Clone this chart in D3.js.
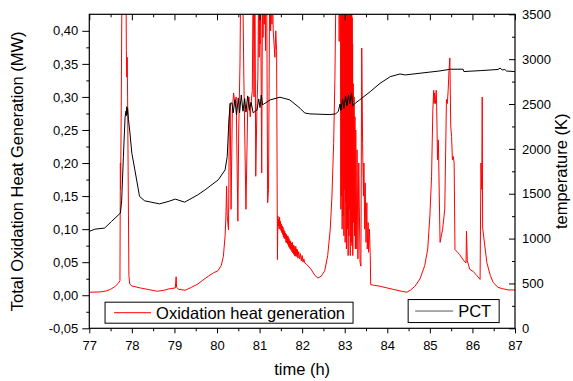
<!DOCTYPE html>
<html>
<head>
<meta charset="utf-8">
<script src="https://cdn.jsdelivr.net/npm/d3@7"></script>
<style>
  body { margin: 0; background: #fff; }
  svg { display: block; font-family: "Liberation Sans", Arial, sans-serif; }
  .tick text { font-size: 13px; fill: #000; }
  .axis-title { font-size: 16.5px; fill: #000; }
  .legend-text { font-size: 16.5px; fill: #000; }
</style>
</head>
<body>
<div id="wrapper"></div>
<script>
// oxidation heat generation (MW)
const redTime = [
  77.00, 77.25, 77.40, 77.50, 77.60, 77.68, 77.72, 77.73, 77.735, 77.75,
  77.77, 77.80, 77.84, 77.86, 77.87, 77.88, 77.89, 77.90, 77.92, 77.93,
  77.95, 78.00, 78.20, 78.40, 78.60, 78.75, 78.90, 79.02, 79.04, 79.05,
  79.10, 79.25, 79.40, 79.55, 79.65, 79.80, 79.92, 80.02, 80.10, 80.15,
  80.19, 80.21, 80.225, 80.24, 80.27, 80.29, 80.31, 80.33, 80.36, 80.39,
  80.42, 80.45, 80.49, 80.51, 80.54, 80.56, 80.60, 80.63, 80.68, 80.72,
  80.75, 80.78, 80.80, 80.83, 80.85, 80.87, 80.89, 80.91, 80.94, 80.96, 80.98,
  80.99, 81.00, 81.01, 81.02, 81.03, 81.05, 81.07, 81.08, 81.10, 81.11, 81.12, 81.14, 81.15, 81.17, 81.19,
  81.21, 81.24, 81.26, 81.27, 81.29, 81.30, 81.32, 81.34, 81.36, 81.38, 81.40, 81.42,
  81.43, 81.44, 81.45, 81.46, 81.47, 81.48, 81.49, 81.50, 81.51, 81.52,
  81.53, 81.54, 81.55, 81.56, 81.57, 81.58, 81.59, 81.60, 81.61, 81.62,
  81.63, 81.64, 81.65, 81.66, 81.67, 81.68, 81.69, 81.70, 81.71, 81.72,
  81.73, 81.74, 81.75, 81.76, 81.77, 81.78, 81.79, 81.80, 81.81, 81.82,
  81.83, 81.84, 81.85, 81.86, 81.87, 81.88, 81.89, 81.90, 81.92, 81.94,
  81.96, 81.98, 82.00, 82.02, 82.04, 82.06, 82.10, 82.20, 82.30, 82.37,
  82.45, 82.53, 82.60, 82.66, 82.70, 82.74, 82.77, 82.80, 82.86, 82.87,
  82.88, 82.90, 82.91, 82.915, 82.92, 82.925, 82.93, 82.935, 82.94, 82.945,
  82.95, 82.955, 82.96, 82.965, 82.97, 82.975, 82.98, 82.985, 82.99, 82.995,
  83.00, 83.005, 83.01, 83.015, 83.02, 83.025, 83.03, 83.035, 83.04, 83.045,
  83.05, 83.055, 83.06, 83.065, 83.07, 83.075, 83.08, 83.085, 83.09, 83.095,
  83.10, 83.105, 83.11, 83.115, 83.12, 83.125, 83.13, 83.135, 83.14, 83.145,
  83.15, 83.155, 83.16, 83.165, 83.17, 83.175, 83.18, 83.185, 83.19,
  83.20, 83.21, 83.22, 83.23, 83.24, 83.25, 83.26, 83.27, 83.29, 83.31, 83.33, 83.36, 83.38,
  83.40, 83.42, 83.44, 83.45, 83.47, 83.48, 83.50, 83.52, 83.53, 83.55,
  83.56, 83.58, 83.60, 83.61, 83.70, 83.83, 84.00, 84.30, 84.46, 84.55,
  84.65, 84.77, 84.88, 84.95, 85.00, 85.04, 85.07, 85.09, 85.10, 85.11,
  85.13, 85.15, 85.16, 85.18, 85.20, 85.24, 85.30, 85.35, 85.39, 85.41,
  85.43, 85.45, 85.47, 85.49, 85.51, 85.53, 85.55, 85.57, 85.59, 85.65,
  85.70, 85.80, 85.85, 85.86, 85.88, 85.94, 86.02, 86.10, 86.18, 86.20,
  86.22, 86.23, 86.24, 86.30, 86.34, 86.42, 86.49, 86.60, 86.70, 86.85,
  87.00
]
const redHeat = [
  0.0045, 0.005, 0.0065, 0.009, 0.013, 0.018, 0.022, 0.20, 0.16, 0.28,
  0.50, 0.50, 0.50, 0.50, 0.37, 0.33, 0.36, 0.30, 0.12, 0.03,
  0.017, 0.014, 0.011, 0.0085, 0.006, 0.0075, 0.010, 0.011, 0.028, 0.012,
  0.009, 0.0075, 0.012, 0.017, 0.022, 0.029, 0.034, 0.037, 0.045, 0.059,
  0.09, 0.12, 0.165, 0.12, 0.099, 0.265, 0.29, 0.13, 0.28, 0.306,
  0.29, 0.30, 0.112, 0.25, 0.35, 0.50, 0.50, 0.33, 0.13, 0.28,
  0.30, 0.27, 0.29, 0.31, 0.50, 0.30, 0.50, 0.18, 0.29, 0.33, 0.50,
  0.36, 0.50, 0.38, 0.50, 0.40, 0.185, 0.50, 0.39, 0.50, 0.41, 0.50, 0.37, 0.50, 0.42, 0.14,
  0.16, 0.50, 0.40, 0.50, 0.41, 0.50, 0.40, 0.38, 0.36, 0.40, 0.37, 0.054,
  0.12, 0.105, 0.115, 0.10, 0.118, 0.102, 0.112, 0.098, 0.108, 0.095,
  0.105, 0.092, 0.103, 0.088, 0.099, 0.086, 0.097, 0.085, 0.094, 0.080,
  0.092, 0.079, 0.090, 0.077, 0.089, 0.074, 0.086, 0.072, 0.083, 0.070,
  0.082, 0.068, 0.079, 0.066, 0.080, 0.064, 0.076, 0.062, 0.075, 0.060,
  0.072, 0.059, 0.074, 0.060, 0.070, 0.058, 0.069, 0.056, 0.066, 0.055,
  0.063, 0.052, 0.060, 0.050, 0.055, 0.049, 0.047, 0.040, 0.030, 0.026,
  0.029, 0.037, 0.06, 0.10, 0.15, 0.23, 0.33, 0.50, 0.50, 0.384,
  0.50, 0.50, 0.13, 0.50, 0.15, 0.50, 0.22, 0.50, 0.10, 0.50,
  0.18, 0.50, 0.12, 0.50, 0.25, 0.50, 0.09, 0.50, 0.16, 0.50,
  0.20, 0.50, 0.08, 0.50, 0.14, 0.50, 0.19, 0.50, 0.07, 0.50,
  0.12, 0.50, 0.21, 0.50, 0.10, 0.50, 0.06, 0.50, 0.17, 0.50,
  0.09, 0.50, 0.13, 0.50, 0.23, 0.50, 0.06, 0.50, 0.11, 0.45,
  0.08, 0.50, 0.15, 0.50, 0.075, 0.42, 0.10, 0.38, 0.06,
  0.32, 0.11, 0.30, 0.09, 0.27, 0.07, 0.25, 0.07, 0.22, 0.055, 0.20, 0.05, 0.044,
  0.374, 0.23, 0.15, 0.20, 0.10, 0.17, 0.08, 0.14, 0.07, 0.11,
  0.065, 0.10, 0.06, 0.016, 0.015, 0.0136, 0.011, 0.0065, 0.0045, 0.008,
  0.0136, 0.025, 0.045, 0.07, 0.12, 0.18, 0.28, 0.31, 0.29, 0.306,
  0.29, 0.31, 0.286, 0.205, 0.235, 0.08, 0.10, 0.13, 0.296, 0.29,
  0.31, 0.34, 0.359, 0.256, 0.24, 0.205, 0.21, 0.20, 0.069, 0.065,
  0.0615, 0.052, 0.049, 0.097, 0.052, 0.039, 0.036, 0.030, 0.024, 0.20,
  0.16, 0.30, 0.102, 0.07, 0.049, 0.03, 0.019, 0.012, 0.010, 0.008,
  0.008
]

// peak cladding temperature (K)
const pctTime = [
  77.00, 77.13, 77.36, 77.52, 77.73, 77.76, 77.80, 77.84, 77.86, 77.87,
  77.88, 77.89, 77.90, 77.92, 77.95, 78.00, 78.07, 78.18, 78.30, 78.65,
  78.85, 79.02, 79.24, 79.55, 79.72, 80.03, 80.19, 80.24, 80.28, 80.31,
  80.35, 80.38, 80.42, 80.46, 80.50, 80.53, 80.57, 80.61, 80.65, 80.68,
  80.72, 80.76, 80.80, 80.85, 80.90, 80.94, 80.98, 81.01, 81.04, 81.07,
  81.10, 81.25, 81.48, 81.71, 81.95, 82.06, 82.18, 82.65, 82.79, 82.85,
  82.89, 82.91, 82.95, 82.98, 83.02, 83.05, 83.09, 83.12, 83.16, 83.19,
  83.25, 83.35, 83.60, 83.83, 84.07, 84.30, 84.42, 85.24, 85.48, 85.78,
  85.80, 86.18, 86.60, 86.65, 86.70, 86.76, 86.80, 87.00
]
const pctTemp = [
  1080, 1105, 1117, 1190, 1284, 1420, 1900, 2350, 2420, 2370,
  2470, 2390, 2450, 2330, 2200, 1950, 1766, 1470, 1421, 1387,
  1413, 1440, 1406, 1488, 1543, 1655, 1766, 1914, 2323, 2509,
  2512, 2401, 2546, 2379, 2568, 2401, 2601, 2420, 2560, 2410,
  2590, 2430, 2520, 2401, 2420, 2434, 2557, 2460, 2600, 2490,
  2500, 2546, 2576, 2546, 2453, 2400, 2390, 2382, 2390, 2420,
  2500, 2430, 2560, 2450, 2590, 2480, 2600, 2500, 2620, 2480,
  2510, 2546, 2638, 2731, 2805, 2835, 2824, 2869, 2888, 2888,
  2862, 2872, 2885, 2900, 2880, 2885, 2868, 2861
]

const xTicks = [77, 78, 79, 80, 81, 82, 83, 84, 85, 86, 87]
const leftTicks = [-0.05, 0, 0.05, 0.10, 0.15, 0.20, 0.25, 0.30, 0.35, 0.40]
const rightTicks = [0, 500, 1000, 1500, 2000, 2500, 3000, 3500]

function drawChart() {
  const dimensions = {
    width: 573,
    height: 381,
    margin: { top: 14.3, right: 58, bottom: 52.7, left: 89.3 }
  }
  dimensions.boundedWidth = dimensions.width - dimensions.margin.left - dimensions.margin.right
  dimensions.boundedHeight = dimensions.height - dimensions.margin.top - dimensions.margin.bottom

  const wrapper = d3.select("#wrapper")
    .append("svg")
      .attr("width", dimensions.width)
      .attr("height", dimensions.height)

  const bounds = wrapper.append("g")
    .attr("transform", `translate(${dimensions.margin.left},${dimensions.margin.top})`)

  const xScale = d3.scaleLinear()
    .domain([77, 87])
    .range([0, dimensions.boundedWidth])

  const yScale = d3.scaleLinear()
    .domain([-0.05, 0.425])
    .range([dimensions.boundedHeight, 0])

  const tScale = d3.scaleLinear()
    .domain([0, 3500])
    .range([dimensions.boundedHeight, 0])

  const commaFormat = d => d.toFixed(2).replace(".", ",")
  const minorX = xTicks.slice(1).map(d => d - 0.5)
  const minorLeft = leftTicks.map(d => d + 0.025)
  const minorRight = rightTicks.slice(1).map(d => d - 250)

  // curves
  bounds.append("clipPath")
    .attr("id", "plot-clip")
    .append("rect")
      .attr("width", dimensions.boundedWidth)
      .attr("height", dimensions.boundedHeight)

  const heatData = redTime.map((t, i) => [t, redHeat[i]])
  const pctData = pctTime.map((t, i) => [t, pctTemp[i]])

  const heatLine = d3.line()
    .x(d => xScale(d[0]))
    .y(d => yScale(d[1]))

  const pctLine = d3.line()
    .x(d => xScale(d[0]))
    .y(d => tScale(d[1]))

  const curves = bounds.append("g")
    .attr("clip-path", "url(#plot-clip)")

  curves.append("path")
    .attr("d", heatLine(heatData))
    .attr("fill", "none")
    .attr("stroke", "#ff0000")
    .attr("stroke-width", 1)
    .attr("stroke-linejoin", "round")

  curves.append("path")
    .attr("d", pctLine(pctData))
    .attr("fill", "none")
    .attr("stroke", "#000")
    .attr("stroke-width", 1)
    .attr("stroke-linejoin", "round")

  // axes
  const styleAxis = g => {
    g.select(".domain").remove()
    g.selectAll(".tick line").attr("stroke", "#000")
  }

  bounds.append("g")
    .attr("transform", `translate(0,${dimensions.boundedHeight})`)
    .call(d3.axisBottom(xScale).tickValues(xTicks).tickSize(5).tickPadding(7).tickFormat(d3.format("d")))
    .call(styleAxis)
  bounds.append("g")
    .attr("transform", `translate(0,${dimensions.boundedHeight})`)
    .call(d3.axisBottom(xScale).tickValues(minorX).tickSize(3).tickFormat(""))
    .call(styleAxis)

  bounds.append("g")
    .call(d3.axisBottom(xScale).tickValues(xTicks).tickSize(6).tickFormat(""))
    .call(styleAxis)
  bounds.append("g")
    .call(d3.axisBottom(xScale).tickValues(minorX).tickSize(3).tickFormat(""))
    .call(styleAxis)

  bounds.append("g")
    .call(d3.axisLeft(yScale).tickValues(leftTicks).tickSize(7).tickPadding(4).tickFormat(commaFormat))
    .call(styleAxis)
  bounds.append("g")
    .call(d3.axisLeft(yScale).tickValues(minorLeft.filter(d => d < 0.42)).tickSize(3).tickFormat(""))
    .call(styleAxis)

  bounds.append("g")
    .attr("transform", `translate(${dimensions.boundedWidth},0)`)
    .call(d3.axisLeft(tScale).tickValues(rightTicks).tickSize(6).tickFormat(""))
    .call(styleAxis)
  bounds.append("g")
    .attr("transform", `translate(${dimensions.boundedWidth},0)`)
    .call(d3.axisLeft(tScale).tickValues(minorRight).tickSize(3).tickFormat(""))
    .call(styleAxis)
  bounds.append("g")
    .attr("transform", `translate(${dimensions.boundedWidth},0)`)
    .call(d3.axisRight(tScale).tickValues(rightTicks).tickSize(0).tickPadding(7).tickFormat(d3.format("d")))
    .call(styleAxis)

  bounds.selectAll(".tick text")
    .style("font-family", "'Liberation Sans', Arial, sans-serif")
    .style("font-size", "13px")

  // frame
  bounds.append("rect")
    .attr("width", dimensions.boundedWidth)
    .attr("height", dimensions.boundedHeight)
    .attr("fill", "none")
    .attr("stroke", "#000")
    .attr("stroke-width", 1.2)

  // axis titles
  bounds.append("text")
    .attr("class", "axis-title")
    .attr("transform", `translate(${-66},${dimensions.boundedHeight / 2}) rotate(-90)`)
    .attr("text-anchor", "middle")
    .text("Total Oxidation Heat Generation (MW)")

  bounds.append("text")
    .attr("class", "axis-title")
    .attr("transform", `translate(${dimensions.boundedWidth + 52},${dimensions.boundedHeight / 2}) rotate(-90)`)
    .attr("text-anchor", "middle")
    .text("temperature (K)")

  bounds.append("text")
    .attr("class", "axis-title")
    .attr("x", dimensions.boundedWidth / 2)
    .attr("y", dimensions.boundedHeight + 47)
    .attr("text-anchor", "middle")
    .text("time (h)")

  // legends
  const legend = bounds.append("g")
    .attr("id", "legend")

  const heatBox = legend.append("g")
    .attr("transform", `translate(${xScale(77.37)},${yScale(-0.0105)})`)
  heatBox.append("rect")
    .attr("width", 248)
    .attr("height", 21)
    .attr("fill", "#fff")
    .attr("stroke", "#000")
  heatBox.append("line")
    .attr("x1", 9).attr("x2", 46)
    .attr("y1", 10.5).attr("y2", 10.5)
    .attr("stroke", "#ff0000")
  heatBox.append("text")
    .attr("class", "legend-text")
    .attr("x", 51)
    .attr("y", 16.5)
    .text("Oxidation heat generation")

  const pctBox = legend.append("g")
    .attr("transform", `translate(${xScale(84.49)},${yScale(-0.0065)})`)
  pctBox.append("rect")
    .attr("width", 91)
    .attr("height", 23)
    .attr("fill", "#fff")
    .attr("stroke", "#000")
  pctBox.append("line")
    .attr("x1", 7).attr("x2", 45)
    .attr("y1", 11.5).attr("y2", 11.5)
    .attr("stroke", "#555")
  pctBox.append("text")
    .attr("class", "legend-text")
    .attr("x", 50)
    .attr("y", 17.5)
    .text("PCT")
}

drawChart()
</script>
</body>
</html>
